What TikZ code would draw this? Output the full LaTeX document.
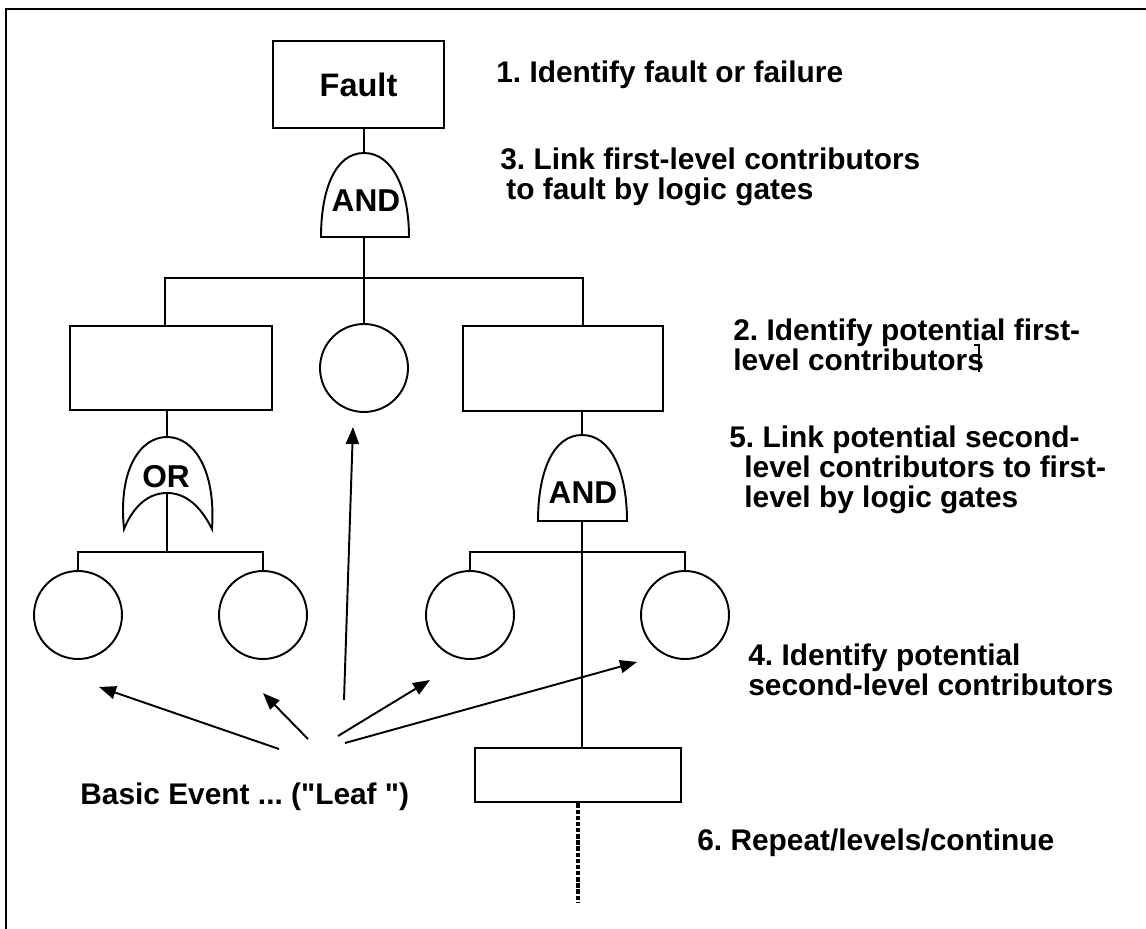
\documentclass[tikz,border=0pt]{standalone}
\usepackage{fontspec}
\setmainfont{Liberation Sans}
\usetikzlibrary{arrows.meta}
\frenchspacing
\tikzset{
	thickline/.style={line width=1.6pt},
	eventbox/.style={draw,line width=1.6pt,inner sep=0pt,minimum width=#1},
	eventbox/.default=4cm,
	leafcircle/.style={draw,circle,line width=1.1pt,inner sep=0pt,minimum size=1.76cm},
	gatetext/.style={font=\fontsize{18}{20}\selectfont\bfseries},
	steplabel/.style={anchor=west,align=left,inner sep=0pt,font=\fontsize{17}{17}\selectfont\bfseries},
	leafarrow/.style={line width=1.1pt,-{Triangle[length=0.34cm,width=0.26cm]}}
}
\begin{document}
\begin{tikzpicture}[x=0.02cm,y=-0.02cm]
\useasboundingbox (0,0) rectangle (1146,929);
% frame
\draw [line width=1.6pt] (6,929) -- (6,9) -- (1146,9);
% boxes and circles
\node[eventbox=3.42cm,minimum height=1.74cm] (fault) at (358.5,84.5) {\fontsize{18.5}{20}\selectfont\bfseries Fault};
\node[eventbox=4.04cm,minimum height=1.68cm] (box1) at (171,368) {};
\node[leafcircle] (circ0) at (364,368) {};
\node[eventbox=4cm,minimum height=1.7cm] (box2) at (563,368.5) {};
\node[leafcircle] (c1) at (78,615) {};
\node[leafcircle] (c2) at (263,615) {};
\node[leafcircle] (c3) at (470,615) {};
\node[leafcircle] (c4) at (685,615) {};
\node[eventbox=4.12cm,minimum height=1.08cm] (box3) at (578,775) {};
% gates
\coordinate (g1top) at (364,153);
\coordinate (g1bot) at (364,237);
\coordinate (g2top) at (167,437);
\coordinate (g2bot) at (167,493);
\coordinate (g3top) at (582,435);
\coordinate (g3bot) at (582,521);
\draw [line width=1.1pt] (321,237) .. controls (321,190) and (335,153) .. (g1top)
	.. controls (393,153) and (409,190) .. (409,237) -- cycle;
\draw [line width=1.1pt] (124,529) .. controls (118,470) and (140,437) .. (g2top)
	.. controls (194,437) and (216,470) .. (212,529)
	.. controls (200,505) and (185,493) .. (g2bot)
	.. controls (149,493) and (134,505) .. cycle;
\draw [line width=1.1pt] (538,521) .. controls (538,472) and (553,435) .. (g3top)
	.. controls (611,435) and (627,472) .. (627,521) -- cycle;
\node[gatetext] (and1) at (366,201) {AND};
\node[gatetext] (or1) at (166,477) {OR};
\node[gatetext] (and2) at (583,493) {AND};
% connections
\draw [thickline] (fault.south -| g1top) -- (g1top);
\draw [thickline] (g1bot) -- (364,278);
\draw [thickline] (box1.north -| 165,0) -- (165,278) -- (583,278) -- (box2.north -| 583,0);
\draw [thickline] (364,278) -- (circ0.north);
\draw [thickline] (box1.south -| g2top) -- (g2top);
\draw [thickline] (g2bot) -- (167,552);
\draw [thickline] (c1.north) -- (78,552) -- (c2.north |- 0,552) -- (c2.north);
\draw [thickline] (box2.south -| g3top) -- (g3top);
\draw [thickline] (g3bot) -- (box3.north -| g3bot);
\draw [thickline] (c3.north) -- (470,552) -- (c4.north |- 0,552) -- (c4.north);
\coordinate (cont) at (578,903);
\draw [line width=2pt,dash pattern=on 2.5pt off 1pt] (box3.south -| cont) -- (cont);
% basic events
\node[steplabel] (leaf) at (80,797) {Basic Event ... (\textquotedbl Leaf \textquotedbl)};
\coordinate (s1) at (279,749); \coordinate (t1) at (99,687);
\coordinate (s2) at (308,739); \coordinate (t2) at (263,693);
\coordinate (s3) at (344,700); \coordinate (t3) at (353,427);
\coordinate (s4) at (338,736); \coordinate (t4) at (430,680);
\coordinate (s5) at (345,743); \coordinate (t5) at (637,662);
\foreach \i in {1,...,5}
	\draw [leafarrow] (s\i) -- (t\i);
% steps
\node[steplabel] (step1) at (496,75) {1. Identify fault or failure};
\node[steplabel] (step3) at (500,177) {3. Link first-level contributors\\\hspace*{0.12cm}to fault by logic gates};
\node[steplabel] (step2) at (733,345) {2. Identify potential first-\\level contributors};
\draw [line width=0.8pt] (974,345) -- (979,345) -- (979,372);
\node[steplabel] (step5) at (729,470) {5. Link potential second-\\\hspace*{0.3cm}level contributors to first-\\\hspace*{0.3cm}level by logic gates};
\node[steplabel] (step4) at (748,670) {4. Identify potential\\second-level contributors};
\node[steplabel] (step6) at (697,843) {6. Repeat/levels/continue};
\end{tikzpicture}
\end{document}
